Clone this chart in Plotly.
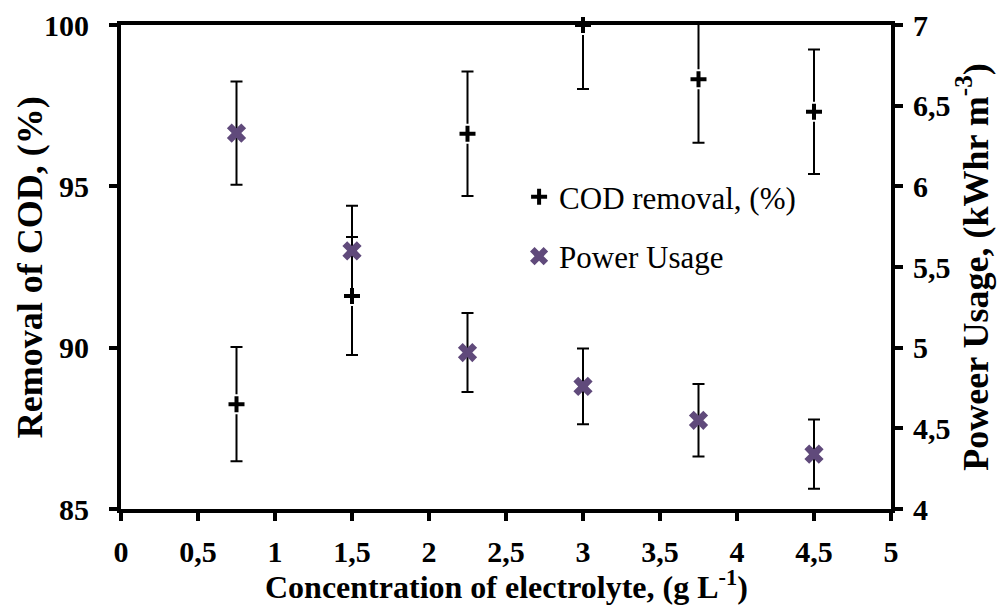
import plotly.graph_objects as go

# ---- data ----
concentration = [0.75, 1.5, 2.25, 3.0, 3.75, 4.5]
cod_removal = [88.25, 91.6, 96.63, 100.0, 98.32, 97.31]
cod_error = [1.77, 1.83, 1.93, 1.98, 1.97, 1.93]
power_usage = [6.33, 5.60, 4.97, 4.76, 4.55, 4.34]
power_error = [0.32, 0.28, 0.245, 0.235, 0.225, 0.215]

x_ticks = [0, 0.5, 1, 1.5, 2, 2.5, 3, 3.5, 4, 4.5, 5]
y1_ticks = [85, 90, 95, 100]
y2_ticks = [4, 4.5, 5, 5.5, 6, 6.5, 7]

FONT = "'Liberation Serif', 'DejaVu Serif', serif"
PURPLE = "#604A7B"

fig = go.Figure()

# error bars (clipped to the plot area)
fig.add_trace(go.Scatter(
    x=concentration, y=cod_removal, mode="markers",
    marker=dict(size=1, color="rgba(0,0,0,0)"),
    error_y=dict(type="data", array=cod_error, color="black", thickness=2, width=6),
    showlegend=False, hoverinfo="skip", cliponaxis=True,
))
fig.add_trace(go.Scatter(
    x=concentration, y=power_usage, mode="markers", yaxis="y2",
    marker=dict(size=1, color="rgba(0,0,0,0)"),
    error_y=dict(type="data", array=power_error, color="black", thickness=2, width=6),
    showlegend=False, hoverinfo="skip", cliponaxis=True,
))
# markers
fig.add_trace(go.Scatter(
    x=concentration, y=cod_removal, mode="markers", name="COD removal, (%)",
    marker=dict(symbol="cross", size=15, color="black", line=dict(color="white", width=2)),
    cliponaxis=False, legendgroup="a",
))
fig.add_trace(go.Scatter(
    x=concentration, y=power_usage, mode="markers", name="Power Usage", yaxis="y2",
    marker=dict(symbol="x", size=17, color=PURPLE, line=dict(width=0)),
    cliponaxis=False, legendgroup="b",
))

axis_common = dict(
    showline=True, linewidth=4, linecolor="black",
    ticks="outside", ticklen=8, tickwidth=4, tickcolor="black",
    showgrid=False, zeroline=False, automargin=False,
    tickfont=dict(family=FONT, size=30, color="black", weight="bold"),
)

fig.update_layout(
    width=1002, height=608,
    margin=dict(l=121, r=111, t=25, b=99, autoexpand=False),
    paper_bgcolor="white", plot_bgcolor="white",
    separators=",.",
    font=dict(family=FONT),
    xaxis=dict(
        range=[0, 5], tickvals=x_ticks, mirror=True,
        ticklabelstandoff=5,
        **axis_common,
    ),
    yaxis=dict(
        range=[85, 100], tickvals=y1_ticks,
        ticklabelstandoff=14,
        **axis_common,
    ),
    yaxis2=dict(
        range=[4, 7], tickvals=y2_ticks, overlaying="y", side="right",
        title=dict(text="Poweer Usage, (kWhr m<sup>-3</sup>)", standoff=12,
                   font=dict(family=FONT, size=36, color="black", weight="bold")),
        ticklabelstandoff=4,
        **axis_common,
    ),
    annotations=[
        dict(
            text="Removal of COD, (%)", textangle=-90,
            xref="paper", yref="paper", x=-0.118, y=0.5,
            xanchor="center", yanchor="middle", showarrow=False,
            font=dict(family=FONT, size=36, color="black", weight="bold"),
        ),
        dict(
            text="Concentration of electrolyte, (g L<sup>-1</sup>)",
            xref="paper", yref="paper", x=0.5, y=-0.158,
            xanchor="center", yanchor="middle", showarrow=False,
            font=dict(family=FONT, size=32, color="black", weight="bold"),
        ),
    ],
    legend=dict(
        x=0.517, y=0.70, xanchor="left", yanchor="top",
        font=dict(family=FONT, size=31, color="black"),
        bgcolor="rgba(0,0,0,0)", tracegroupgap=16, itemwidth=30,
    ),
    showlegend=True,
)

fig.write_html("out.html")
